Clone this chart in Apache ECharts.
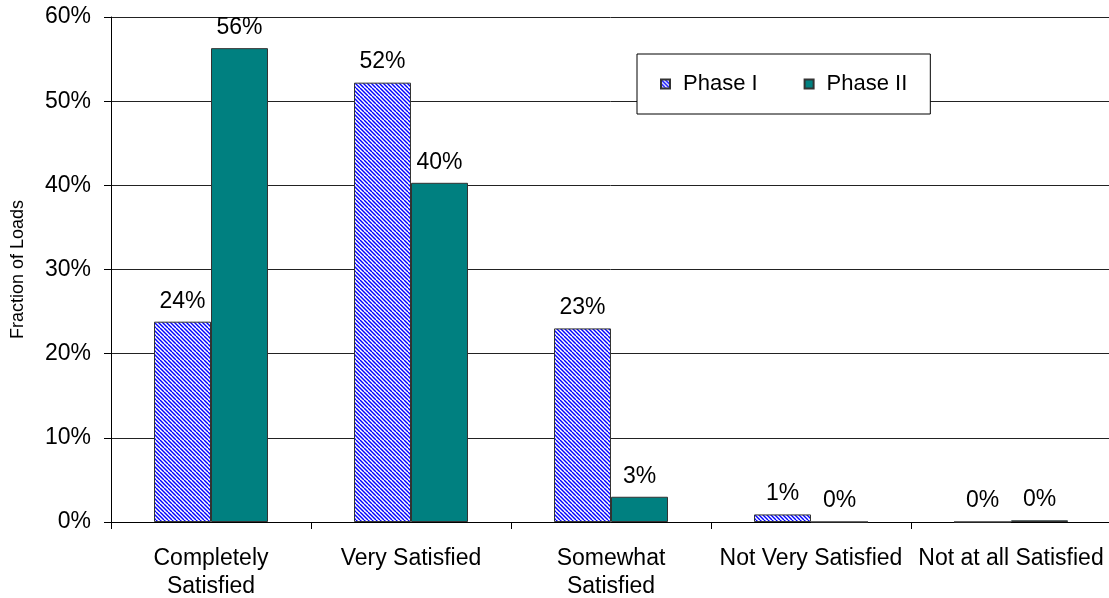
<!DOCTYPE html>
<html>
<head>
<meta charset="utf-8">
<script src="https://cdn.jsdelivr.net/npm/echarts@6/dist/echarts.min.js"></script>
<style>
  html, body { margin: 0; padding: 0; background: #fff; }
  #satisfactionChart { width: 1109px; height: 598px; }
</style>
</head>
<body>
<div id="satisfactionChart"></div>
<script>
// categories and values (percent of loads)
const categories = ['Completely\nSatisfied', 'Very Satisfied', 'Somewhat\nSatisfied', 'Not Very Satisfied', 'Not at all Satisfied']
const phaseOne = [23.8, 52.2, 23.0, 0.9, 0]
const phaseTwo = [56.3, 40.3, 3.0, 0, 0.2]
const seriesNames = ['Phase I', 'Phase II']

// blue diagonal hatch like the Excel pattern fill
function makeHatch () {
  const c = document.createElement('canvas')
  c.width = 8
  c.height = 8
  const ctx = c.getContext('2d')
  ctx.fillStyle = '#ffffff'
  ctx.fillRect(0, 0, 8, 8)
  ctx.strokeStyle = '#0000ff'
  ctx.lineWidth = 1.4
  for (let k = -3; k <= 3; k++) {
    ctx.beginPath()
    ctx.moveTo(k * 4, 0)
    ctx.lineTo(k * 4 + 8, 8)
    ctx.stroke()
  }
  return c
}

const font = 'Liberation Sans, Arial, sans-serif'

const option = {
  animation: false,
  textStyle: { fontFamily: font },
  grid: {
    left: 111,
    right: -2,
    top: 17,
    bottom: 76,
    containLabel: false,
    outerBoundsMode: 'none'
  },
  legend: {
    data: seriesNames,
    left: 637,
    top: 54,
    orient: 'horizontal',
    backgroundColor: '#ffffff',
    borderColor: '#000000',
    borderWidth: 1,
    padding: [19, 23, 19, 23],
    itemWidth: 9,
    itemHeight: 9,
    itemGap: 46,
    icon: 'rect',
    textStyle: {
      fontFamily: font,
      fontSize: 22,
      color: '#000',
      padding: [0, 0, 0, 8]
    }
  },
  xAxis: {
    type: 'category',
    data: categories,
    axisLine: { lineStyle: { color: '#000', width: 1 } },
    axisTick: { show: true, length: 7, lineStyle: { color: '#000' } },
    axisLabel: {
      color: '#000',
      fontSize: 23,
      lineHeight: 28,
      margin: 23,
      interval: 0
    }
  },
  yAxis: {
    type: 'value',
    min: 0,
    max: 60,
    interval: 10,
    name: 'Fraction of Loads',
    nameLocation: 'middle',
    nameGap: 84,
    nameTextStyle: { color: '#000', fontSize: 18, fontFamily: font },
    axisLine: { show: true, lineStyle: { color: '#000', width: 1 } },
    axisTick: { show: true, length: 7, lineStyle: { color: '#000' } },
    axisLabel: {
      color: '#000',
      fontSize: 23,
      margin: 20,
      formatter: '{value}%'
    },
    splitLine: {
      show: true,
      lineStyle: { color: '#222', width: 1 }
    }
  },
  series: [
    {
      name: seriesNames[0],
      type: 'bar',
      data: phaseOne,
      barWidth: 57,
      barGap: '0%',
      itemStyle: {
        color: { image: makeHatch(), repeat: 'repeat' },
        borderColor: '#333',
        borderWidth: 1
      },
      label: {
        show: true,
        position: 'top',
        distance: 9,
        color: '#000',
        fontSize: 23,
        fontFamily: font,
        formatter: p => Math.round(p.value) + '%'
      }
    },
    {
      name: seriesNames[1],
      type: 'bar',
      data: phaseTwo,
      barWidth: 57,
      barGap: '0%',
      itemStyle: {
        color: '#008080',
        borderColor: '#333',
        borderWidth: 1
      },
      label: {
        show: true,
        position: 'top',
        distance: 9,
        color: '#000',
        fontSize: 23,
        fontFamily: font,
        formatter: p => Math.round(p.value) + '%'
      }
    }
  ]
}

const myChart = echarts.init(document.getElementById('satisfactionChart'))
myChart.setOption(option, true)
window.addEventListener('resize', () => {
  myChart.resize()
})
</script>
</body>
</html>
